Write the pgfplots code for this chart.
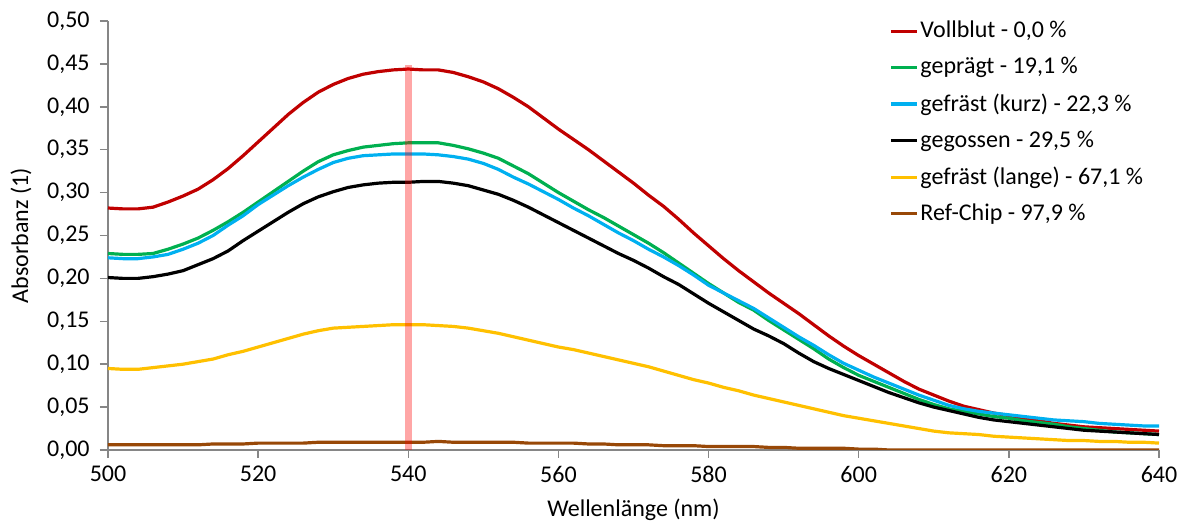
\documentclass[border=0pt]{standalone}
\usepackage{fontspec}
\setmainfont{Carlito}
\usepackage{pgfplots}
\pgfplotsset{compat=1.18}
\usepackage{pgfplotstable}
\definecolor{cred}{HTML}{C00000}
\definecolor{cgreen}{HTML}{00B050}
\definecolor{cblue}{HTML}{00B0F0}
\definecolor{cyellow}{HTML}{FFC000}
\definecolor{cbrown}{HTML}{984807}
\definecolor{axisgray}{HTML}{868686}
\pgfplotstableread{
x red green blue black yellow brown
500 0.282 0.229 0.224 0.201 0.095 0.006
502 0.281 0.228 0.223 0.200 0.094 0.006
504 0.281 0.228 0.223 0.200 0.094 0.006
506 0.283 0.229 0.225 0.202 0.096 0.006
508 0.289 0.234 0.228 0.205 0.098 0.006
510 0.296 0.240 0.234 0.209 0.100 0.006
512 0.304 0.247 0.241 0.216 0.103 0.006
514 0.315 0.256 0.250 0.223 0.106 0.007
516 0.328 0.266 0.262 0.232 0.111 0.007
518 0.343 0.277 0.273 0.244 0.115 0.007
520 0.359 0.289 0.286 0.255 0.120 0.008
522 0.375 0.301 0.297 0.266 0.125 0.008
524 0.391 0.313 0.308 0.277 0.130 0.008
526 0.405 0.325 0.318 0.287 0.135 0.008
528 0.417 0.336 0.327 0.295 0.139 0.009
530 0.426 0.344 0.335 0.301 0.142 0.009
532 0.433 0.349 0.340 0.306 0.143 0.009
534 0.438 0.353 0.343 0.309 0.144 0.009
536 0.441 0.355 0.344 0.311 0.145 0.009
538 0.443 0.357 0.345 0.312 0.146 0.009
540 0.444 0.358 0.345 0.312 0.146 0.009
542 0.443 0.358 0.345 0.313 0.146 0.009
544 0.443 0.358 0.344 0.313 0.145 0.010
546 0.440 0.355 0.342 0.311 0.144 0.009
548 0.435 0.351 0.339 0.308 0.142 0.009
550 0.429 0.346 0.334 0.303 0.139 0.009
552 0.421 0.340 0.327 0.298 0.136 0.009
554 0.411 0.331 0.318 0.291 0.132 0.009
556 0.400 0.322 0.310 0.283 0.128 0.008
558 0.387 0.311 0.301 0.274 0.124 0.008
560 0.374 0.300 0.292 0.265 0.120 0.008
562 0.362 0.290 0.282 0.256 0.117 0.008
564 0.350 0.280 0.273 0.247 0.113 0.007
566 0.337 0.271 0.263 0.238 0.109 0.007
568 0.324 0.261 0.253 0.229 0.105 0.006
570 0.311 0.251 0.244 0.221 0.101 0.006
572 0.297 0.241 0.234 0.212 0.097 0.006
574 0.284 0.230 0.225 0.202 0.092 0.005
576 0.269 0.218 0.215 0.193 0.087 0.005
578 0.253 0.206 0.204 0.182 0.082 0.005
580 0.238 0.194 0.192 0.171 0.078 0.004
582 0.223 0.183 0.183 0.161 0.073 0.004
584 0.209 0.172 0.174 0.151 0.069 0.004
586 0.196 0.163 0.165 0.141 0.064 0.004
588 0.183 0.151 0.154 0.133 0.060 0.003
590 0.171 0.140 0.143 0.124 0.056 0.003
592 0.159 0.129 0.132 0.113 0.052 0.002
594 0.146 0.118 0.122 0.103 0.048 0.002
596 0.133 0.106 0.111 0.095 0.044 0.002
598 0.121 0.096 0.101 0.088 0.040 0.002
600 0.110 0.087 0.093 0.081 0.037 0.001
602 0.100 0.080 0.085 0.074 0.034 0.001
604 0.090 0.073 0.078 0.067 0.031 0.000
606 0.080 0.066 0.071 0.061 0.028 0.000
608 0.071 0.059 0.064 0.055 0.025 0.000
610 0.064 0.053 0.058 0.050 0.022 0.000
612 0.057 0.048 0.052 0.046 0.020 0.000
614 0.051 0.045 0.048 0.042 0.019 0.000
616 0.047 0.042 0.045 0.038 0.018 0.000
618 0.043 0.039 0.043 0.035 0.016 0.000
620 0.040 0.037 0.041 0.033 0.015 0.000
622 0.037 0.034 0.039 0.031 0.014 0.000
624 0.034 0.032 0.037 0.029 0.013 0.000
626 0.031 0.030 0.035 0.027 0.012 0.000
628 0.029 0.027 0.034 0.025 0.011 0.000
630 0.027 0.025 0.033 0.023 0.011 0.000
632 0.026 0.023 0.031 0.022 0.010 0.000
634 0.025 0.021 0.030 0.021 0.010 0.000
636 0.024 0.020 0.029 0.020 0.009 0.000
638 0.023 0.019 0.028 0.019 0.009 0.000
640 0.022 0.018 0.028 0.018 0.008 0.000
}\data
\begin{document}
\fontsize{12}{14}\selectfont
\begin{tikzpicture}
\begin{axis}[
  scale only axis, width=525.5pt, height=214.5pt,
  xmin=500, xmax=640, ymin=0, ymax=0.5,
  axis x line*=bottom, axis y line*=left,
  axis line style={draw=axisgray, line width=0.75pt},
  every tick/.style={draw=axisgray, line width=0.75pt},
  tick align=outside, major tick length=4pt,
  xtick={500,520,540,560,580,600,620,640},
  ytick={0,0.05,0.1,0.15,0.2,0.25,0.3,0.35,0.4,0.45,0.5},
  /pgf/number format/assume math mode=true,
  yticklabel style={xshift=-1pt, /pgf/number format/fixed, /pgf/number format/fixed zerofill, /pgf/number format/precision=2, /pgf/number format/use comma},
  xticklabel style={/pgf/number format/1000 sep={}},
  xlabel={Wellenlänge (nm)}, ylabel={Absorbanz (1)},
  xlabel style={at={(axis description cs:0.5,-0.14)}, anchor=center},
  ylabel style={at={(axis description cs:-0.0828,0.5)}, anchor=center},
  no markers,
  legend cell align=left,
  legend style={at={(axis description cs:0.743,1.005)}, anchor=north west, draw=none, fill=none, row sep=6pt, inner sep=0pt,
    nodes={inner sep=1pt}},
  legend image code/.code={\draw[#1, line width=1.6pt] (0pt,0pt) -- (13pt,0pt);},
]
\addplot[cred, line width=1.6pt] table[x=x,y=red] {\data};
\addlegendentry{Vollblut - 0,0 \%}
\addplot[cgreen, line width=1.6pt] table[x=x,y=green] {\data};
\addlegendentry{geprägt - 19,1 \%}
\addplot[cblue, line width=1.6pt] table[x=x,y=blue] {\data};
\addlegendentry{gefräst (kurz) - 22,3 \%}
\addplot[black, line width=1.6pt] table[x=x,y=black] {\data};
\addlegendentry{gegossen - 29,5 \%}
\addplot[cyellow, line width=1.6pt] table[x=x,y=yellow] {\data};
\addlegendentry{gefräst (lange) - 67,1 \%}
\addplot[cbrown, line width=1.6pt] table[x=x,y=brown] {\data};
\addlegendentry{Ref-Chip - 97,9 \%}
\addplot[forget plot, draw=red, opacity=0.35, line width=3.5pt] coordinates {(540,0) (540,0.449)};
\end{axis}
\pgfresetboundingbox
\path[use as bounding box] ([xshift=-54pt,yshift=-37.5pt]current axis.south west) rectangle ([xshift=15pt,yshift=10.5pt]current axis.north east);
\end{tikzpicture}
\end{document}
